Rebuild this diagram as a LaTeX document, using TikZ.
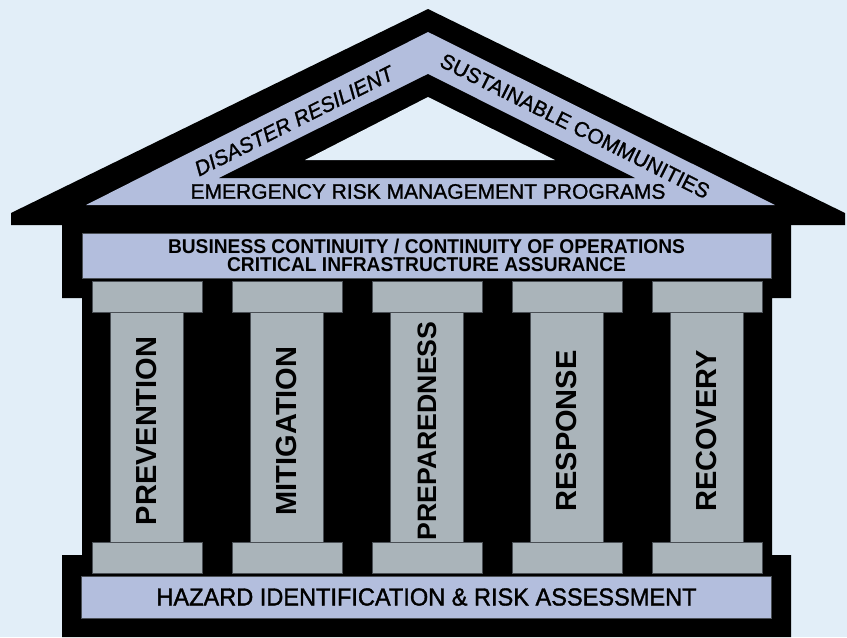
\documentclass[tikz,border=0pt]{standalone}
\usepackage{fontspec}
\setmainfont{Liberation Sans}
\definecolor{skybg}{HTML}{E2EEF8}
\definecolor{lavband}{HTML}{B3BEDD}
\definecolor{pillargray}{HTML}{AAB4BA}
\definecolor{edgegray}{HTML}{4A4F55}
\newcommand{\rooffont}{\fontsize{15.75}{18}\selectfont\addfontfeature{FakeBold=1.2}}
\begin{document}
\begin{tikzpicture}[x=0.75pt, y=-0.75pt, line join=miter,
  band/.style={fill=lavband, draw=edgegray, line width=0.4pt},
  stone/.style={fill=pillargray, draw=edgegray, line width=0.4pt},
  rooftext/.style={inner sep=0pt, font=\rooffont},
  pillartext/.style={rotate=90, inner sep=0pt, font=\bfseries\fontsize{21.75}{24}\selectfont}]
% === Parameters for the colonnade ===
\def\pitch{140} % distance between pillars
\def\capw{110}  % width of capital and base

% === Background ===
\fill[skybg] (0,0) rectangle (847,637);
\useasboundingbox (0,0) rectangle (847,637);

% === Roof and body (black) ===
\fill[black] (428,9) -- (845,213) -- (845,225) -- (11,225) -- (11,213) -- cycle;
\fill[black] (62,224) -- (791,224) -- (791,298) -- (772,298) -- (772,555)
  -- (791,555) -- (791,637) -- (62,637) -- (62,555) -- (82,555) -- (82,298)
  -- (62,298) -- cycle;

% === Pediment ===
\fill[lavband] (428,32) -- (775,205) -- (86,205) -- cycle;
\fill[black] (428,74) -- (635,178) -- (219,178) -- cycle;
\fill[skybg] (428,97) -- (555,160) -- (305,160) -- cycle;

\node[rooftext, rotate=26.6, font=\itshape\rooffont] (disaster) at (294,121) {DISASTER RESILIENT};
\node[rooftext, rotate=-26.6] (sustain) at (575,126) {SUSTAINABLE COMMUNITIES};
\node[rooftext] (ermp) at (428,191.5) {EMERGENCY RISK MANAGEMENT PROGRAMS};

% === Entablature ===
\draw[band] (82,233) rectangle (771,278);
\node[align=center, inner sep=0pt,
  font=\bfseries\fontsize{15}{13.5}\selectfont\addfontfeature{FakeStretch=0.96}]
  (business) at (426.5,255.5) {BUSINESS CONTINUITY / CONTINUITY OF OPERATIONS\\CRITICAL INFRASTRUCTURE ASSURANCE};

% === Pillars ===
\foreach \i/\name in {0/PREVENTION, 1/MITIGATION, 2/PREPAREDNESS, 3/RESPONSE, 4/RECOVERY}{
  \pgfmathsetmacro{\xl}{92+\pitch*\i}
  \draw[stone] (\xl,281) rectangle ++(\capw,31);
  \draw[stone] (\xl+18,312) rectangle ++(73,230);
  \draw[stone] (\xl,542) rectangle ++(\capw,31);
}
\node[pillartext] (prevention) at (147,431) {PREVENTION};
\node[pillartext] (mitigation) at (287,431) {MITIGATION};
\node[pillartext, font=\bfseries\fontsize{20}{24}\selectfont] (preparedness) at (427,431) {PREPAREDNESS};
\node[pillartext] (response) at (567,431) {RESPONSE};
\node[pillartext] (recovery) at (707,431) {RECOVERY};

% === Foundation ===
\draw[band] (81,576) rectangle (771,618);
\node[inner sep=0pt, font=\fontsize{18.5}{20}\selectfont\addfontfeature{FakeStretch=0.955,FakeBold=1.4}]
  (hazard) at (426.5,597) {HAZARD IDENTIFICATION \& RISK ASSESSMENT};
\end{tikzpicture}
\end{document}
